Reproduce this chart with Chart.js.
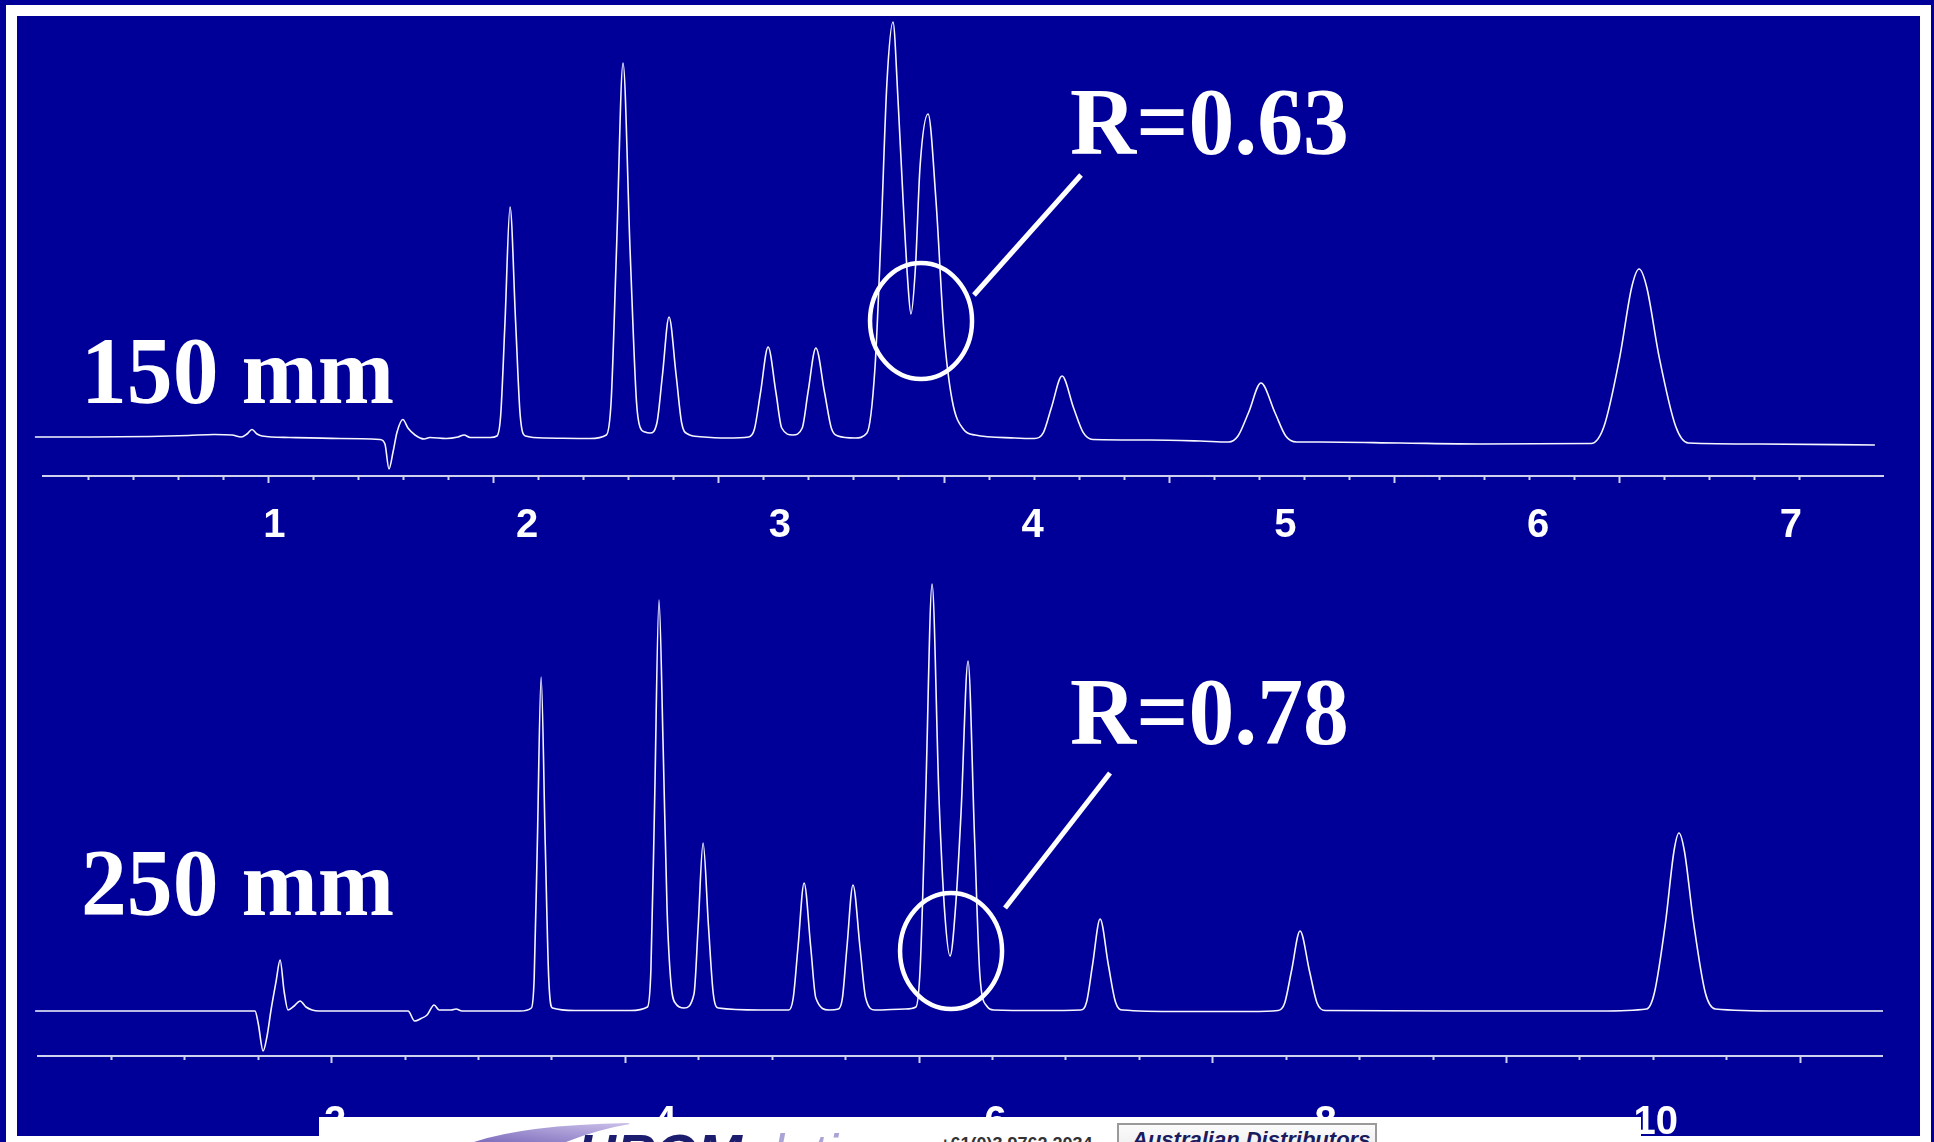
<!DOCTYPE html>
<html>
<head>
<meta charset="utf-8">
<title>150 mm vs 250 mm column</title>
<script src="https://cdn.jsdelivr.net/npm/chart.js@4.4.1/dist/chart.umd.min.js"></script>
<style>
  html, body { margin: 0; padding: 0; }
  body {
    width: 1934px; height: 1142px; overflow: hidden; position: relative;
    background: #000099; font-family: "Liberation Sans", Arial, sans-serif;
  }
  .frame {
    position: absolute; left: 6px; top: 5px; width: 1925px; height: 1142px;
    box-sizing: border-box; border: 11px solid #fff;
  }
  canvas { position: absolute; }
  #topChart { left: 33px; top: 16px; }
  #bottomChart { left: 28px; top: 560px; }
  .tag {
    position: absolute; color: #fff; white-space: nowrap;
    font-family: "Liberation Serif", "Times New Roman", serif; font-weight: bold;
    font-size: 95px; line-height: 95px;
    transform: scaleX(0.965); transform-origin: 0 0;
  }
  .banner {
    position: absolute; left: 319px; top: 1117px; width: 1322px; height: 30px;
    background: #fff; overflow: hidden; z-index: 5;
  }
  .banner .swoosh { position: absolute; left: 155px; top: 0; }
  .banner .logo {
    position: absolute; left: 258px; top: 9px; font-size: 54px; line-height: 54px;
    font-weight: bold; font-style: italic; color: #1d1d70; white-space: nowrap;
  }
  .banner .logo span { color: #aaa3d6; font-weight: normal; }
  .banner .phone {
    position: absolute; left: 621px; top: 18px; font-size: 18px; line-height: 18px;
    font-weight: bold; color: #333; white-space: nowrap;
  }
  .banner .dist {
    position: absolute; left: 798px; top: 6px; width: 256px; height: 40px;
    border: 2px solid #9a9a9a; background: linear-gradient(#fbfbfb, #e6e6e6);
  }
  .banner .dist span {
    position: absolute; left: 13px; top: 4px; font-size: 22px; line-height: 22px;
    font-weight: bold; font-style: italic; color: #1b1b5e; white-space: nowrap;
  }
</style>
</head>
<body>
<div class="frame"></div>

<canvas id="topChart" width="1851" height="567"></canvas>
<canvas id="bottomChart" width="1855" height="603"></canvas>

<div class="tag" style="left:81px; top:324px;">150 mm</div>
<div class="tag" style="left:1070px; top:75px;">R=0.63</div>
<div class="tag" style="left:81px; top:836px;">250 mm</div>
<div class="tag" style="left:1070px; top:665px;">R=0.78</div>

<div class="banner">
  <svg class="swoosh" width="160" height="25" viewBox="0 0 160 25">
    <defs>
      <linearGradient id="sw" x1="0" y1="1" x2="1" y2="0">
        <stop offset="0" stop-color="#7d6cbc"/>
        <stop offset="1" stop-color="#cbc1ea"/>
      </linearGradient>
    </defs>
    <path d="M0,25 Q50,8 154,6 L156,7 Q125,12 92,25 Z" fill="url(#sw)"/>
  </svg>
  <div class="logo">HROM<span>alytic</span></div>
  <div class="phone">+61(0)3 9762 2034</div>
  <div class="dist"><span>Australian Distributors</span></div>
</div>

<script>
// 150 mm column: retention time (min) and detector signal
const topTime = [
    0.052, 0.270, 0.507, 0.658, 0.761, 0.832, 0.868, 0.891, 0.911, 0.931, 0.951, 1.061, 1.259, 1.417,
    1.437, 1.453, 1.469, 1.485, 1.508, 1.528, 1.556, 1.592, 1.615, 1.679, 1.726, 1.750, 1.774, 1.853,
    1.880, 1.895, 1.912, 1.932, 1.954, 1.972, 1.993,
    2.070, 2.248,
    2.313, 2.332, 2.353, 2.379, 2.407, 2.432, 2.446, 2.466, 2.486,
    2.513, 2.535, 2.561, 2.589, 2.611, 2.635,
    2.684, 2.790,
    2.876, 2.899, 2.923, 2.953, 2.984, 3.007, 3.051,
    3.088, 3.111, 3.142, 3.176, 3.203, 3.229, 3.297,
    3.344, 3.376, 3.400, 3.423, 3.447, 3.467, 3.487, 3.506, 3.518,
    3.536, 3.554, 3.586, 3.617, 3.649, 3.681, 3.728, 3.772,
    3.930,
    4.007, 4.042, 4.074, 4.116, 4.161, 4.200, 4.238,
    4.464, 4.662,
    4.775, 4.812, 4.854, 4.903, 4.958, 5.001, 5.044,
    5.137, 5.453, 5.770,
    6.209, 6.260, 6.323, 6.370, 6.399, 6.429, 6.478, 6.544, 6.594,
    6.877, 7.332
];
const topSignal = [
    0, 0, 0.5, 1.5, 2.5, 2, 0, 3, 7.5, 3, 1, -0.5, -1.5, -2.5,
    -7, -32, -15, 5, 17.5, 9, 2, -2, -0.5, -1.5, 0, 2, -0.5, -0.5,
    1, 22, 115, 230, 115, 22, 1,
    -1, -1.5,
    2, 36, 186, 374, 186, 36, 10, 5, 4,
    14, 62, 120, 62, 14, 3,
    0.3, -1,
    0, 8, 44.5, 90, 44.5, 9, 2,
    9, 45, 89, 45, 9, 1, -1,
    4, 70, 204, 354, 415, 337, 237, 154, 123,
    170, 270, 323, 237, 104, 37, 7, 2,
    -1,
    -1.5, 4.3, 29.5, 61, 29.5, 4.3, -2.5,
    -3, -4,
    -5, 1, 24.5, 54, 24.5, 1, -5,
    -5, -6, -7,
    -6.5, 10.5, 80.5, 150, 168, 150, 80.5, 10.5, -6,
    -7, -8
];

// 250 mm column, same sample
const bottomTime = [
    0.183, 0.880, 1.485, 1.515, 1.534, 1.564, 1.588, 1.612, 1.643, 1.667, 1.691, 1.715, 1.752, 1.788,
    1.824, 1.861, 1.903, 2.394, 2.442, 2.482, 2.521, 2.557, 2.600, 2.630, 2.703, 2.733, 2.769, 3.121,
    3.189, 3.206, 3.225, 3.248, 3.273, 3.294, 3.317,
    3.454, 3.787,
    3.892, 3.913, 3.935, 3.962, 3.987, 4.011, 4.035, 4.065, 4.114,
    4.174, 4.199, 4.229, 4.262, 4.291, 4.322,
    4.574,
    4.748, 4.775, 4.804, 4.841, 4.881, 4.912, 4.992,
    5.049, 5.073, 5.100, 5.137, 5.180, 5.214, 5.270,
    5.452,
    5.518, 5.544, 5.577, 5.616, 5.658, 5.692, 5.725,
    5.761, 5.792, 5.834, 5.873, 5.906, 5.947, 5.991,
    6.270,
    6.516, 6.552, 6.588, 6.634, 6.684, 6.727, 6.771,
    7.118, 7.542,
    7.712, 7.752, 7.793, 7.845, 7.902, 7.948, 7.997,
    8.753, 9.662,
    9.944, 9.991, 10.059, 10.110, 10.140, 10.173, 10.228, 10.300, 10.361,
    10.752, 11.376
];
const bottomSignal = [
    0, 0, 0, 0, -12, -40, -25, 1, 30, 51, 20, 1, 5, 10,
    4, 1, 0, 0, 0, -10, -7.5, -4, 6, 1, 1, 2, 0, 0,
    3, 33, 167, 334, 167, 33, 3,
    0.5, 0.5,
    4, 41, 205, 411, 265, 101, 27, 7, 3,
    17, 84, 168, 84, 17, 3,
    1,
    1, 13, 64, 128, 64, 13, 1,
    2, 13, 63, 126, 63, 13, 1,
    2,
    4, 43, 213, 427, 213, 100, 55,
    110, 200, 350, 175, 35, 5, 1,
    0.5,
    1, 9, 46, 92, 46, 9, 1,
    -0.5, -0.5,
    0.5, 8, 40, 80, 40, 8, 0.5,
    0, 0,
    2, 18, 89, 160, 178, 160, 89, 18, 2,
    0, 0
];

// numbers printed under each trace
const topLabels = [1, 2, 3, 4, 5, 6, 7];
const bottomLabels = [2, 4, 6, 8, 10];

const axisColor = '#cfd0ee';

// ellipse round the critical pair and a leader line towards the R value
const calloutPlugin = {
    id: 'callout',
    afterDatasetsDraw(chart, args, opts) {
        const { ctx } = chart;
        const x = chart.scales.x;
        const y = chart.scales.y;
        const cx = x.getPixelForValue(opts.t);
        const cy = y.getPixelForValue(opts.v);
        const rx = x.getPixelForValue(opts.t + opts.dt) - cx;
        const ry = cy - y.getPixelForValue(opts.v + opts.dv);

        ctx.save();
        ctx.strokeStyle = '#ffffff';
        ctx.lineWidth = 4.5;
        ctx.beginPath();
        ctx.ellipse(cx, cy, rx, ry, 0, 0, Math.PI * 2);
        ctx.stroke();

        ctx.lineWidth = 5;
        ctx.beginPath();
        ctx.moveTo(x.getPixelForValue(opts.from[0]), y.getPixelForValue(opts.from[1]));
        ctx.lineTo(x.getPixelForValue(opts.to[0]), y.getPixelForValue(opts.to[1]));
        ctx.stroke();
        ctx.restore();
    }
};

function makeChart(id, time, signal, labels, cfg) {
    const isMajor = v => Math.abs(v / cfg.majorStep - Math.round(v / cfg.majorStep)) < 1e-6;

    return new Chart(document.getElementById(id).getContext('2d'), {
        type: 'line',
        data: {
            datasets: [{
                data: time.map((t, i) => ({ x: t, y: signal[i] })),
                xAxisID: 'x',
                borderColor: '#f6f6ff',
                borderWidth: 1.6,
                pointRadius: 0,
                cubicInterpolationMode: 'monotone',
                fill: false,
                clip: false
            }]
        },
        options: {
            responsive: false,
            animation: false,
            events: [],
            // room on the left for the start of the trace, which begins before the axis
            layout: { padding: { left: 10, right: 0, top: 0, bottom: 0 } },
            plugins: {
                legend: { display: false },
                tooltip: { enabled: false },
                callout: cfg.callout
            },
            scales: {
                // the recorder's own time axis: line and tick marks only
                xt: {
                    type: 'linear',
                    position: 'bottom',
                    weight: 0,
                    min: 0,
                    max: cfg.tickMax,
                    ticks: { display: false, stepSize: cfg.minorStep },
                    grid: {
                        display: true,
                        drawOnChartArea: false,
                        tickLength: 7,
                        tickWidth: 2,
                        tickColor: axisColor,
                        tickBorderDash: ctx => (ctx.tick && !isMajor(ctx.tick.value)) ? [3, 40] : []
                    },
                    border: { display: true, color: axisColor, width: 2 },
                    afterBuildTicks: s => {
                        s.ticks = s.ticks.filter(t => t.value > 0.01 && t.value < s.max - 0.01);
                    },
                    afterFit: s => { s.height = 7; }
                },
                // retention time labels
                x: {
                    type: 'linear',
                    position: 'bottom',
                    weight: 1,
                    min: cfg.labelMin,
                    max: cfg.labelMax,
                    grid: { display: false, drawTicks: false },
                    border: { display: false },
                    ticks: {
                        color: '#ffffff',
                        font: { family: 'Liberation Sans', size: 40, weight: 'bold' },
                        padding: cfg.labelPad,
                        maxRotation: 0,
                        autoSkip: false
                    },
                    afterBuildTicks: s => {
                        s.ticks = labels.map(v => ({ value: v }));
                    },
                    afterFit: s => { s.height = 100; }
                },
                y: { display: false, min: cfg.yMin, max: cfg.yMax }
            }
        },
        plugins: [calloutPlugin]
    });
}

makeChart('topChart', topTime, topSignal, topLabels, {
    tickMax: 8.173, minorStep: 0.2, majorStep: 1,
    labelMin: 0.0841, labelMax: 7.368, labelPad: 19,
    yMin: -39, yMax: 421,
    callout: { t: 3.558, v: 116, dt: 0.2018, dv: 58, from: [3.7675, 142], to: [4.191, 262] }
});

makeChart('bottomChart', bottomTime, bottomSignal, bottomLabels, {
    tickMax: 12.564, minorStep: 0.5, majorStep: 2,
    labelMin: 0.2005, labelMax: 11.376, labelPad: 35.5,
    yMin: -45, yMax: 451,
    callout: { t: 5.731, v: 60, dt: 0.3089, dv: 58, from: [6.058, 103], to: [6.694, 238] }
});
</script>
</body>
</html>
